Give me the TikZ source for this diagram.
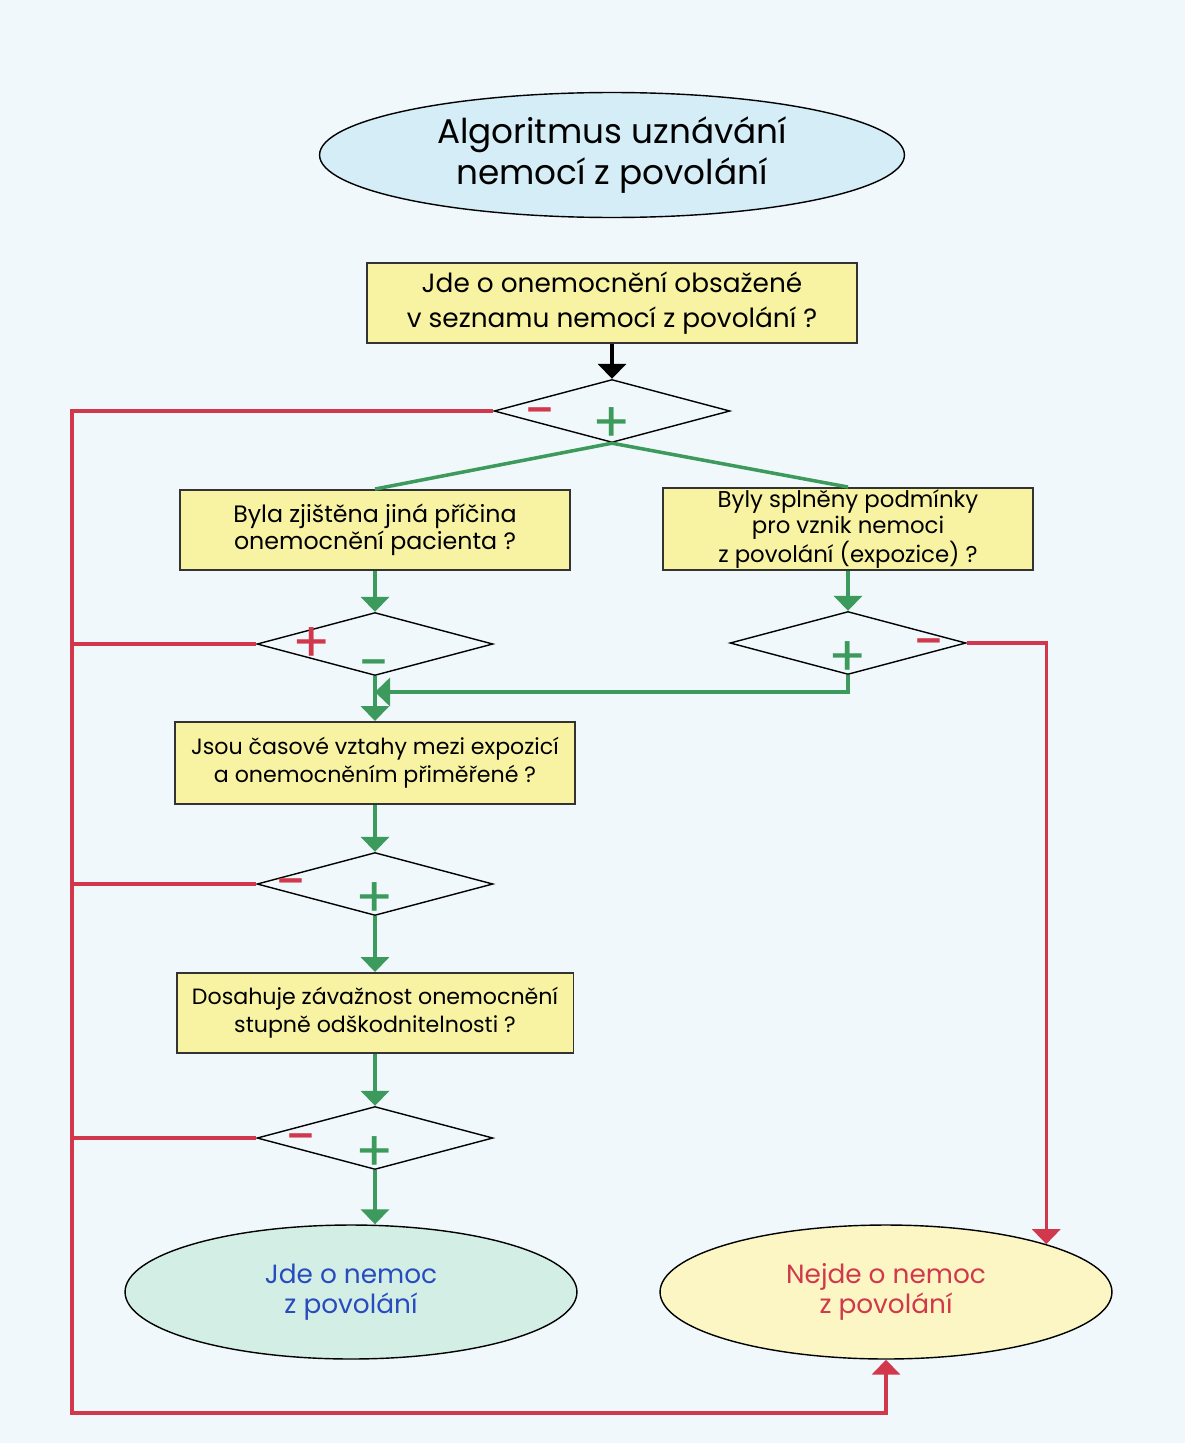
\documentclass[tikz,border=0pt]{standalone}
\usepackage{fontspec}
\setmainfont{Poppins}
\usetikzlibrary{shapes.geometric,arrows.meta}
\definecolor{bgblue}{RGB}{240,248,251}
\definecolor{titleblue}{RGB}{212,237,247}
\definecolor{boxyellow}{RGB}{248,243,162}
\definecolor{endgreen}{RGB}{211,239,229}
\definecolor{endyellow}{RGB}{251,246,196}
\definecolor{linered}{RGB}{210,56,76}
\definecolor{linegreen}{RGB}{60,154,92}
\definecolor{textblue}{RGB}{40,75,190}

\begin{document}
\begin{tikzpicture}[x=0.02cm,y=-0.02cm,
    question/.style={draw=black!80, line width=1.1pt, fill=boxyellow, align=center, inner sep=0pt},
    decision/.style={diamond, draw, line width=0.8pt, minimum width=4.72cm, minimum height=1.26cm, inner sep=0pt},
    result/.style={ellipse, draw, line width=0.8pt, minimum width=9.04cm, minimum height=2.68cm, align=center, font=\fontsize{15}{17}\selectfont},
    yesline/.style={linegreen, line width=2pt},
    noline/.style={linered, line width=2pt},
    arrowtip/.style={-{Triangle[width=0.56cm,length=0.3cm]}},
    signlabel/.style={font=\fontsize{32}{32}\selectfont, inner sep=0pt},
  ]
\fill[bgblue] (0,0) rectangle (1185,1443);

\node[ellipse, draw, line width=0.8pt, fill=titleblue, minimum width=11.7cm, minimum height=2.5cm, align=center, font=\fontsize{19.5}{23}\selectfont] (title) at (612,155) {Algoritmus uznávání\\nemocí z povolání};
\node[question, minimum width=9.8cm, minimum height=1.6cm, font=\fontsize{15}{20}\selectfont] (seznam) at (612,303) {Jde o onemocnění obsažené\\v seznamu nemocí z povolání ?};
\node[decision] (d1) at (612,411) {};

\node[question, minimum width=7.8cm, minimum height=1.6cm, font=\fontsize{13.5}{15.4}\selectfont] (pricina) at (375,530) {Byla zjištěna jiná příčina\\onemocnění pacienta ?};
\node[question, minimum width=7.4cm, minimum height=1.64cm, font=\fontsize{13}{14.5}\selectfont] (expozice) at (848,529) {Byly splněny podmínky\\pro vznik nemoci\\z povolání (expozice) ?};
\node[decision] (d2) at (375,644) {};
\node[decision] (d3) at (848,643) {};

\node[question, minimum width=8cm, minimum height=1.64cm, font=\fontsize{12.6}{16}\selectfont] (vztahy) at (375,763) {Jsou časové vztahy mezi expozicí\\a onemocněním přiměřené ?};
\node[decision] (d4) at (375,884) {};

\node[question, minimum width=7.94cm, minimum height=1.6cm, font=\fontsize{12.6}{16}\selectfont] (zavaznost) at (375,1013) {Dosahuje závažnost onemocnění\\stupně odškodnitelnosti ?};
\node[decision] (d5) at (375,1138) {};

\node[result, fill=endgreen, text=textblue] (ano) at (351,1292) {Jde o nemoc\\z povolání};
\node[result, fill=endyellow, text=linered] (ne) at (886,1292) {Nejde o nemoc\\z povolání};

\node[signlabel, text=linered] (m1) at (541,419) {-};
\node[signlabel, text=linegreen] (p1) at (612,425) {+};
\node[signlabel, text=linered] (p2) at (312,645) {+};
\node[signlabel, text=linegreen] (m2) at (375,671) {-};
\node[signlabel, text=linegreen] (p3) at (848,659) {+};
\node[signlabel, text=linered] (m3) at (930,650) {-};
\node[signlabel, text=linered] (m4) at (292,890) {-};
\node[signlabel, text=linegreen] (p4) at (375,900) {+};
\node[signlabel, text=linered] (m5) at (302,1145) {-};
\node[signlabel, text=linegreen] (p5) at (375,1154) {+};

\coordinate (vlevo) at (72,411);
\coordinate (dole) at (72,1413);
\coordinate (spoj) at (375,692);

\draw[line width=2pt, arrowtip] (seznam) -- (d1);
\draw[yesline] (d1.south) -- (pricina.north);
\draw[yesline] (d1.south) -- (expozice.north);
\draw[yesline, arrowtip] (pricina) -- (d2);
\draw[yesline, arrowtip] (expozice) -- (d3);
\draw[yesline, arrowtip] (d3.south) |- (spoj);
\draw[yesline, arrowtip] (d2) -- (vztahy);
\draw[yesline, arrowtip] (vztahy) -- (d4);
\draw[yesline, arrowtip] (d4) -- (zavaznost);
\draw[yesline, arrowtip] (zavaznost) -- (d5);
\draw[yesline, arrowtip] (d5.south) -- (d5.south |- ano.north);

\draw[noline, arrowtip] (d1.west) -- (vlevo) -- (dole) -| (ne.south);
\foreach \d in {d2,d4,d5}
  \draw[noline] (\d.west) -- (\d.west -| vlevo);
\draw[noline, arrowtip] (d3.east) -| (ne.north east);
\end{tikzpicture}
\end{document}
